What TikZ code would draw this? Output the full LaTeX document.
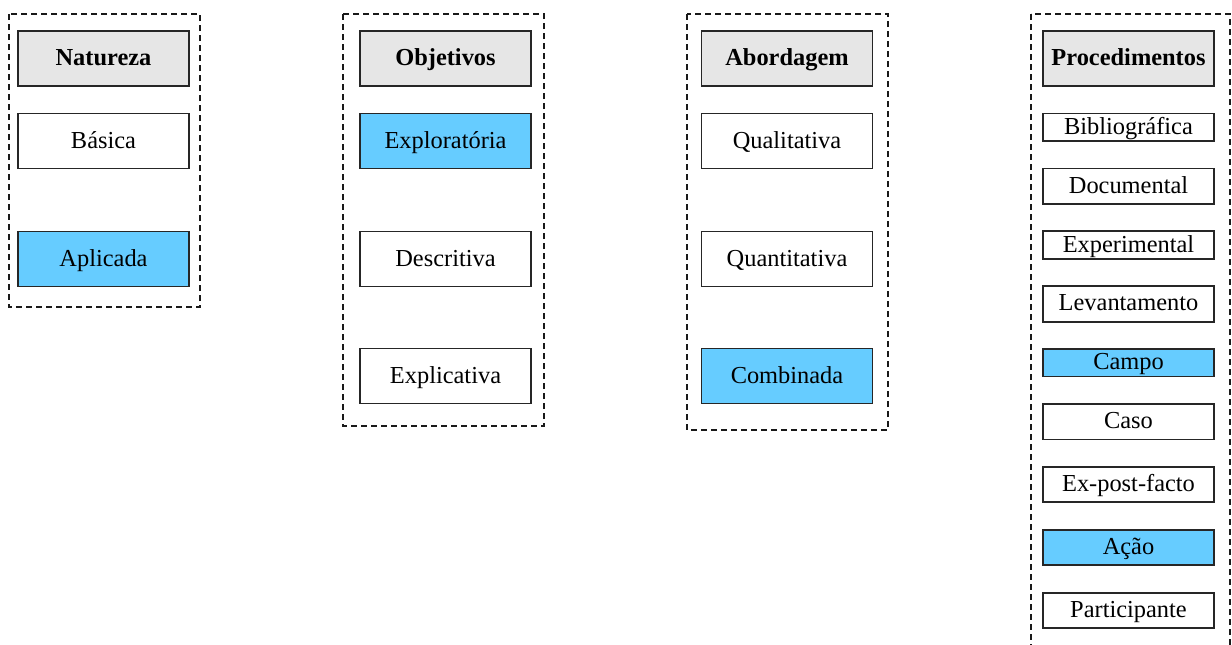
\documentclass[tikz,border=0pt]{standalone}
\usepackage{fontspec}
\setmainfont{Liberation Serif}
\usetikzlibrary{positioning}

\definecolor{headgray}{HTML}{E6E6E6}
\definecolor{chosen}{HTML}{66CCFF}

\begin{document}
\begin{tikzpicture}[x=0.5pt, y=-0.5pt, node distance=13.75pt,
  box/.style={draw=black!85, line width=0.9pt, outer sep=0pt, minimum width=85.5pt, minimum height=27.5pt, inner sep=0pt, text height=9pt, text depth=2pt, font=\fontsize{12.2}{14}\selectfont},
  head/.style={box, fill=headgray, font=\fontsize{12.2}{14}\selectfont\bfseries},
  pick/.style={fill=chosen},
  thin/.style={minimum height=13.7pt},
  mid/.style={minimum height=17.7pt},
  frame/.style={draw=black!90, line width=0.8pt, dash pattern=on 3pt off 2pt}]

\useasboundingbox (0,0) rectangle (1232,644);

% Natureza
\node[head] (natureza) at (103.5,58.5) {Natureza};
\node[box, below=of natureza] (basica) {Básica};
\node[box, pick, below=31.5pt of basica] (aplicada) {Aplicada};

% Objetivos
\node[head] (objetivos) at (445.5,58.5) {Objetivos};
\node[box, pick, below=of objetivos] (exploratoria) {Exploratória};
\node[box, below=31.5pt of exploratoria] (descritiva) {Descritiva};
\node[box, below=31pt of descritiva] (explicativa) {Explicativa};

% Abordagem
\node[head] (abordagem) at (787,58.5) {Abordagem};
\node[box, below=of abordagem] (qualitativa) {Qualitativa};
\node[box, below=31.5pt of qualitativa] (quantitativa) {Quantitativa};
\node[box, pick, below=31pt of quantitativa] (combinada) {Combinada};

% Procedimentos
\node[head] (procedimentos) at (1128.5,58.5) {Procedimentos};
\node[box, thin, below=of procedimentos] (bibliografica) {Bibliográfica};
\node[box, mid, below=of bibliografica] (documental) {Documental};
\node[box, thin, below=of documental] (experimental) {Experimental};
\node[box, mid, below=of experimental] (levantamento) {Levantamento};
\node[box, thin, pick, below=of levantamento] (campo) {Campo};
\node[box, mid, below=of campo] (caso) {Caso};
\node[box, mid, below=of caso] (expostfacto) {Ex-post-facto};
\node[box, mid, pick, below=of expostfacto] (acao) {Ação};
\node[box, mid, below=of acao] (participante) {Participante};

% Frames
\draw[frame] (9,14) rectangle (200,307);
\draw[frame] (343,14) rectangle (544,426);
\draw[frame] (687,14) rectangle (888,430);
\draw[frame] (1031,14) rectangle (1230,670);

\end{tikzpicture}
\end{document}
